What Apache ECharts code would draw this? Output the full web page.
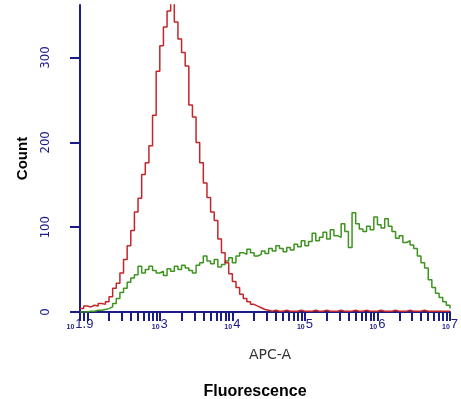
<!DOCTYPE html>
<html>
<head>
<meta charset="utf-8">
<script src="https://cdn.jsdelivr.net/npm/echarts@6/dist/echarts.min.js"></script>
<style>
  html, body { margin: 0; padding: 0; background: #fff; }
  #chart { width: 461px; height: 399px; }
</style>
</head>
<body>
<div id="chart"></div>
<script>
// 通道：log10(荧光强度)，从 1.9 开始，每 0.05 一个通道
const binStart = 1.9;
const binWidth = 0.05;

// 对照（红色）计数
const controlCounts = [
  4, 7, 6, 8, 7, 10, 9, 12, 18, 28,
  34, 46, 62, 78, 96, 118, 134, 162, 176, 196,
  232, 284, 314, 336, 355, 368, 342, 322, 306, 290,
  244, 230, 200, 176, 152, 135, 118, 108, 86, 70,
  58, 45, 36, 29, 21, 16, 12, 9, 7, 5,
  3, 2, 1, 2, 1, 1, 2, 1, 1, 1,
  2, 1, 1, 1, 2, 1, 1, 2, 1, 1,
  1, 2, 1, 1, 1, 2, 1, 1, 2, 1,
  1, 1, 2, 1, 1, 1, 2, 1, 1, 1,
  2, 1, 1, 1, 2, 1, 1, 1, 1, 1,
  1, 1, 1
];

// 样品（绿色）计数
const sampleCounts = [
  0, 0, 1, 1, 2, 2, 3, 4, 6, 10,
  16, 23, 28, 35, 40, 44, 54, 46, 50, 54,
  49, 46, 48, 43, 51, 48, 54, 50, 55, 52,
  49, 46, 55, 58, 66, 60, 57, 62, 53, 56,
  60, 64, 58, 66, 70, 68, 74, 70, 66, 68,
  72, 69, 75, 72, 78, 75, 71, 76, 73, 80,
  77, 84, 78, 83, 93, 84, 88, 94, 86, 97,
  90, 88, 104, 95, 76, 117, 104, 98, 95, 101,
  97, 112, 103, 99, 110, 101, 95, 87, 90, 82,
  84, 79, 75, 66, 58, 52, 38, 29, 22, 17,
  12, 8, 4
];

// 坐标轴刻度
const xLabelValues = [1.9, 3, 4, 5, 6, 7];
const yLabelValues = [0, 100, 200, 300];
const xMin = 1.9, xMax = 7, yMax = 362;

function toPairs(counts) {
  return counts.map((c, i) => [+(binStart + i * binWidth).toFixed(2), c]);
}

// 对数刻度位置（主刻度 + 次刻度）
const xTickValues = [];
for (let n = 1; n <= 6; n++) {
  for (let k = 1; k <= 9; k++) {
    const v = Math.log10(k * Math.pow(10, n));
    if (v >= xMin - 1e-9 && v <= xMax + 1e-9) xTickValues.push(v);
  }
}
xTickValues.push(7);

const navy = '#1c1c86';
const chart = echarts.init(document.getElementById('chart'));

chart.setOption({
  backgroundColor: '#ffffff',
  animation: false,
  title: {
    text: 'Fluorescence',
    left: 250,
    top: 379,
    textAlign: 'center',
    textStyle: { fontFamily: 'Liberation Sans, Arial', fontSize: 16, fontWeight: 'bold', color: '#000' }
  },
  grid: { left: 80, right: 6, top: 5, bottom: 87 },
  xAxis: {
    type: 'value',
    min: xMin,
    max: xMax,
    name: 'APC-A',
    nameLocation: 'middle',
    nameGap: 36,
    nameTextStyle: { fontFamily: 'DejaVu Sans, Verdana', fontSize: 14, color: '#333', padding: [0, 0, 0, 10] },
    axisLine: { show: true, lineStyle: { color: navy, width: 2 } },
    axisTick: {
      show: true,
      customValues: xTickValues,
      length: 9,
      lineStyle: { color: navy, width: 2 }
    },
    axisLabel: {
      customValues: xLabelValues,
      margin: 6,
      formatter: v => '{s|10}{e|' + (+v.toFixed(1)) + '}',
      rich: {
        s: { fontSize: 7, fontWeight: 'bold', color: navy, verticalAlign: 'bottom', padding: [6, 1, 0, 0] },
        e: { fontSize: 13, color: navy, fontFamily: 'Liberation Sans, Arial' }
      }
    },
    splitLine: { show: false }
  },
  yAxis: {
    type: 'value',
    min: 0,
    max: yMax,
    name: 'Count',
    nameLocation: 'middle',
    nameGap: 50,
    nameRotate: 90,
    nameTextStyle: { fontFamily: 'Liberation Sans, Arial', fontSize: 15, fontWeight: 'bold', color: '#000' },
    axisLine: { show: true, lineStyle: { color: navy, width: 2 } },
    axisTick: {
      show: true,
      customValues: yLabelValues,
      length: 10,
      lineStyle: { color: navy, width: 2 }
    },
    axisLabel: {
      customValues: yLabelValues,
      rotate: 90,
      margin: 28,
      fontSize: 13,
      fontFamily: 'DejaVu Sans Condensed, Liberation Sans',
      color: navy
    },
    splitLine: { show: false }
  },
  series: [
    {
      name: 'sample',
      type: 'line',
      step: 'end',
      symbol: 'none',
      data: toPairs(sampleCounts),
      lineStyle: { color: '#3f9420', width: 1.5 },
      z: 2
    },
    {
      name: 'control',
      type: 'line',
      step: 'end',
      symbol: 'none',
      data: toPairs(controlCounts),
      lineStyle: { color: '#c4262a', width: 1.5 },
      z: 3
    }
  ]
});
</script>
</body>
</html>
